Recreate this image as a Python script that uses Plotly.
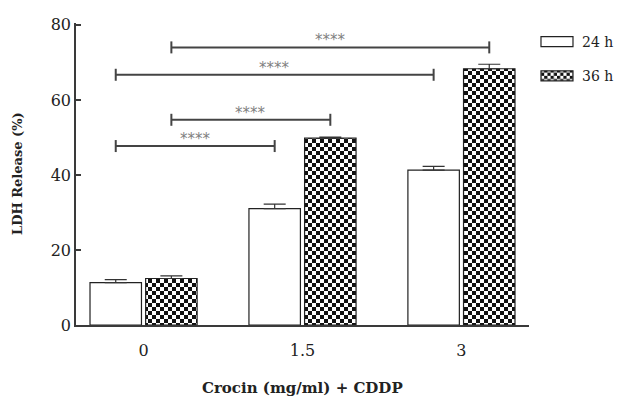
import plotly.graph_objects as go

# ---- data ----
categories = ["0", "1.5", "3"]
series_names = ["24 h", "36 h"]
values_24h = [11.3, 31.0, 41.3]
errors_24h = [0.8, 1.2, 1.0]
values_36h = [12.4, 49.8, 68.3]
errors_36h = [0.7, 0.3, 1.2]
y_ticks = [0, 20, 40, 60, 80]

# significance comparisons: (group from, group to, series, level, label)
bracket_from = [0, 0, 0, 0]
bracket_to = [1, 1, 2, 2]
bracket_series = [0, 1, 0, 1]
bracket_level = [47.7, 54.7, 66.7, 74.0]
bracket_label = ["****", "****", "****", "****"]

x_title = "Crocin (mg/ml) + CDDP"
y_title = "LDH Release (%)"

# ---- style ----
SERIF = "DejaVu Serif"
INK = "#222222"
AXIS = "#3a3a3a"
BARGAP = 0.3
BARGROUPGAP = 0.075

xpos = list(range(len(categories)))

fig = go.Figure()
fig.add_trace(go.Bar(
    name=series_names[0], x=xpos, y=values_24h,
    marker=dict(color="white", line=dict(color=INK, width=1.2)),
    error_y=dict(type="data", array=errors_24h, arrayminus=[0] * len(errors_24h),
                 symmetric=False, color="#333333", thickness=1.2, width=11),
    legendgroup="a",
))
fig.add_trace(go.Bar(
    name=series_names[1], x=xpos, y=values_36h,
    marker=dict(color="white", line=dict(color=INK, width=1.2),
                pattern=dict(shape="+", size=8, solidity=0.5,
                             fgcolor="#111111", bgcolor="white", fillmode="replace")),
    error_y=dict(type="data", array=errors_36h, arrayminus=[0] * len(errors_36h),
                 symmetric=False, color="#333333", thickness=1.2, width=11),
    legendgroup="b",
))

# bar centre offsets derived from the group layout
slot = (1 - BARGAP) / len(series_names)
offsets = [(i - (len(series_names) - 1) / 2) * slot for i in range(len(series_names))]

shapes = []
annotations = []
for g0, g1, s, lvl, lab in zip(bracket_from, bracket_to, bracket_series, bracket_level, bracket_label):
    xa = xpos[g0] + offsets[s]
    xb = xpos[g1] + offsets[s]
    line = dict(color="#444444", width=2)
    shapes.append(dict(type="line", xref="x", yref="y", x0=xa, x1=xb, y0=lvl, y1=lvl, line=line))
    for xe in (xa, xb):
        shapes.append(dict(type="line", xref="x", yref="y", ysizemode="pixel", yanchor=lvl,
                           x0=xe, x1=xe, y0=-6, y1=6, line=line))
    annotations.append(dict(x=(xa + xb) / 2, y=lvl, xref="x", yref="y", text=lab,
                            showarrow=False, yanchor="bottom", yshift=-4,
                            font=dict(family="DejaVu Sans", size=15, color="#808080")))

annotations.append(dict(text="<b>%s</b>" % y_title, xref="paper", yref="paper",
                        x=(17 - 76) / 453, y=0.5, xanchor="center", yanchor="middle",
                        textangle=-90, showarrow=False,
                        font=dict(family=SERIF, size=13, color=INK)))
annotations.append(dict(text="<b>%s</b>" % x_title, xref="paper", yref="paper",
                        x=0.5, y=(325 - 388) / 302, xanchor="center", yanchor="middle",
                        showarrow=False, font=dict(family=SERIF, size=15, color=INK)))

fig.update_layout(
    width=617, height=400,
    margin=dict(l=76, r=88, t=23, b=75, autoexpand=False),
    paper_bgcolor="white", plot_bgcolor="white",
    barmode="group", bargap=BARGAP, bargroupgap=BARGROUPGAP,
    font=dict(family=SERIF, color=INK),
    shapes=shapes, annotations=annotations,
    legend=dict(x=1.0066, xanchor="left", y=0.99, yanchor="top",
                font=dict(family=SERIF, size=14, color=INK),
                bgcolor="rgba(0,0,0,0)", itemwidth=40,
                traceorder="grouped", tracegroupgap=13),
    xaxis=dict(range=[-0.425, 2.425], tickmode="array", tickvals=xpos, ticktext=categories,
               showline=True, linecolor=AXIS, linewidth=1.5, ticks="", showgrid=False,
               zeroline=False, tickfont=dict(family=SERIF, size=16, color=INK),
               ticklabelstandoff=10, fixedrange=True, automargin=False),
    yaxis=dict(range=[0, 80.5], tickmode="array", tickvals=y_ticks,
               showline=True, linecolor=AXIS, linewidth=1.5, ticks="inside", ticklen=5,
               tickwidth=1.5, tickcolor=AXIS, showgrid=False, zeroline=False,
               tickfont=dict(family=SERIF, size=16, color=INK), fixedrange=True,
               automargin=False),
)

post = """
document.body.style.margin = '0';
document.body.style.padding = '0';
var gd = document.getElementById('{plot_id}');
function checker(){
  gd.querySelectorAll('pattern').forEach(function(p){
    var w = parseFloat(p.getAttribute('width'));
    var h = w / 2;
    var path = p.querySelector('path');
    if (path) {
      path.setAttribute('d', 'M0,0h' + h + 'v' + h + 'h-' + h + 'z M' + h + ',' + h + 'h' + h + 'v' + h + 'h-' + h + 'z');
      path.style.fill = '#111111';
      path.style.stroke = 'none';
    }
  });
  gd.querySelectorAll('.legend .legendpoints path').forEach(function(b){
    b.setAttribute('d', 'M16,5H-16V-5H16Z');
  });
}
checker();
setTimeout(checker, 50);
"""

fig.write_html("out.html", post_script=post, config={"displayModeBar": False})
